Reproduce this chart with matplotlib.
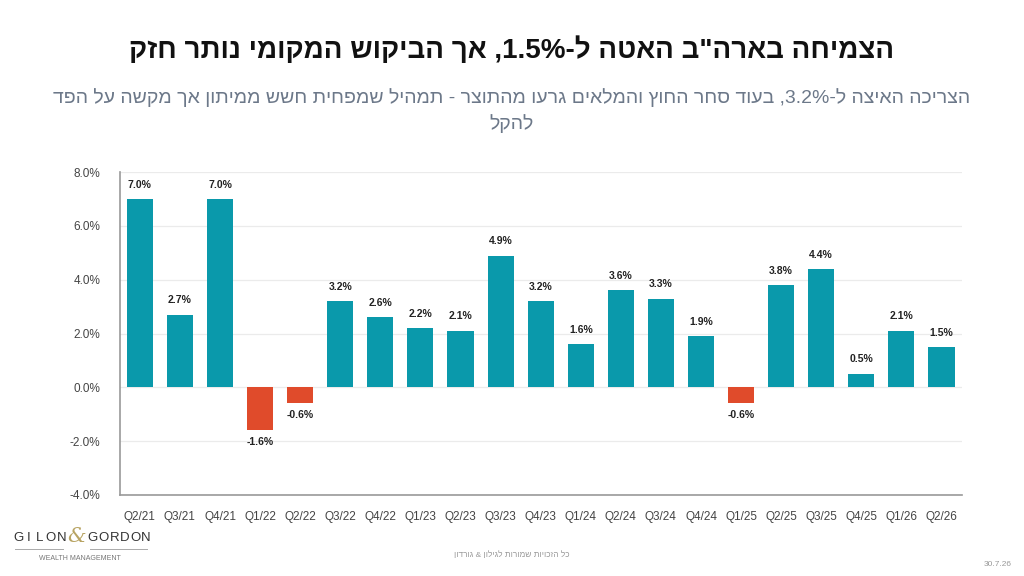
import re
import matplotlib
matplotlib.use("Agg")
import matplotlib.pyplot as plt
from matplotlib.ticker import FuncFormatter

plt.rcParams['font.family'] = ['Liberation Sans', 'DejaVu Sans']

quarters = ['Q2/21', 'Q3/21', 'Q4/21', 'Q1/22', 'Q2/22', 'Q3/22', 'Q4/22',
            'Q1/23', 'Q2/23', 'Q3/23', 'Q4/23', 'Q1/24', 'Q2/24', 'Q3/24',
            'Q4/24', 'Q1/25', 'Q2/25', 'Q3/25', 'Q4/25', 'Q1/26', 'Q2/26']
growth = [7.0, 2.7, 7.0, -1.6, -0.6, 3.2, 2.6, 2.2, 2.1, 4.9, 3.2, 1.6,
          3.6, 3.3, 1.9, -0.6, 3.8, 4.4, 0.5, 2.1, 1.5]

title = 'הצמיחה בארה"ב האטה ל-1.5%, אך הביקוש המקומי נותר חזק'
subtitle1 = 'הצריכה האיצה ל-3.2%, בעוד סחר החוץ והמלאים גרעו מהתוצר - תמהיל שמפחית חשש ממיתון אך מקשה על הפד'
subtitle2 = 'להקל'
footer = 'כל הזכויות שמורות לגילון & גורדון'
date_txt = '30.7.26'

TEAL = '#0a99ab'
RED = '#e04b2b'


def rtl(s):
    # matplotlib has no bidi: flip the string, then put number runs back in order
    r = s[::-1]
    return re.sub(r'[0-9.%]+', lambda m: m.group(0)[::-1], r)


def px(x):
    return x / 1024


def py(y):
    return 1 - y / 576


fig = plt.figure(figsize=(10.24, 5.76), dpi=100)
ax = fig.add_axes([0.117, 0.141, 0.822, 0.560])

colors = [TEAL if v >= 0 else RED for v in growth]
x = range(len(quarters))
ax.bar(x, growth, width=0.65, color=colors, zorder=3)

for i, v in enumerate(growth):
    if v >= 0:
        ax.text(i, v + 0.35, f'{v:.1f}%', ha='center', va='bottom',
                fontsize=7.5, fontweight='bold', color='#222222')
    else:
        ax.text(i, v - 0.25, f'{v:.1f}%', ha='center', va='top',
                fontsize=7.5, fontweight='bold', color='#222222')

ax.set_xlim(-0.5, len(quarters) - 0.5)
ax.set_ylim(-4, 8)
ax.set_yticks([-4, -2, 0, 2, 4, 6, 8])
ax.yaxis.set_major_formatter(FuncFormatter(lambda v, p: f'{v:.1f}%'))
ax.set_xticks(list(x))
ax.set_xticklabels(quarters)
ax.tick_params(axis='both', length=0, labelsize=8.5, colors='#444444')
ax.tick_params(axis='x', pad=12)
ax.tick_params(axis='y', pad=14)
ax.grid(axis='y', color='#ebebeb', linewidth=0.9, zorder=0)

for side in ['top', 'right']:
    ax.spines[side].set_visible(False)
ax.spines['left'].set_color('#999999')
ax.spines['bottom'].set_color('#999999')
ax.spines['left'].set_linewidth(1.2)
ax.spines['bottom'].set_linewidth(1.2)

# titles
fig.text(0.5, 0.913, rtl(title), ha='center', va='center',
         fontsize=20, fontweight='bold', color='#111111')
fig.text(0.5, 0.830, rtl(subtitle1), ha='center', va='center',
         fontsize=14, color='#6c7889')
fig.text(0.5, 0.785, rtl(subtitle2), ha='center', va='center',
         fontsize=14, color='#6c7889')

# footer
fig.text(0.5, 0.037, rtl(footer), ha='center', va='center',
         fontsize=6, color='#999999')
fig.text(0.988, 0.02, date_txt, ha='right', va='center',
         fontsize=6, color='#999999')

# logo, one letter at a time so the spacing stays tight
for k, ch in enumerate('GILON'):
    fig.text(px(18 + k * 10.8), py(538), ch, ha='center', va='center',
             fontsize=9.5, color='#333333')
fig.text(px(77), py(537), '&', ha='center', va='center', fontsize=15,
         color='#b8a463', fontfamily='DejaVu Serif', style='italic')
for k, ch in enumerate('GORDON'):
    fig.text(px(93 + k * 10.6), py(538), ch, ha='center', va='center',
             fontsize=9.5, color='#333333')
fig.add_artist(plt.Line2D([px(15), px(63)], [py(549), py(549)], color='#aaaaaa', lw=0.7))
fig.add_artist(plt.Line2D([px(90), px(147)], [py(549), py(549)], color='#aaaaaa', lw=0.7))
fig.text(px(80), py(558), 'WEALTH MANAGEMENT', ha='center', va='center',
         fontsize=5, color='#777777')

fig.savefig('out.png', dpi=100, facecolor='white')
